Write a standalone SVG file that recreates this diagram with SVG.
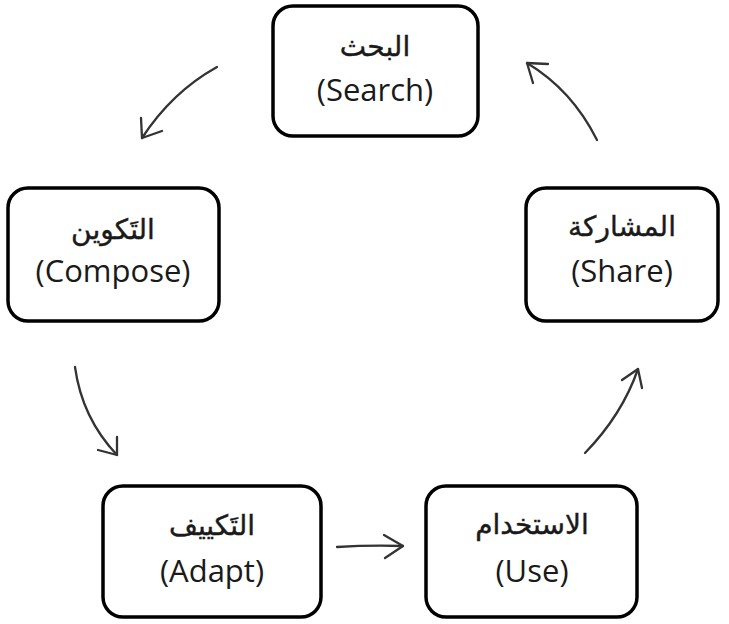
<svg xmlns="http://www.w3.org/2000/svg" width="729" height="624" viewBox="0 0 729 624">
  <style>
    .box { fill: #ffffff; stroke: #000000; stroke-width: 3.5; }
    .ar { font-family: "DejaVu Sans", "Noto Sans", sans-serif; font-size: 28px; fill: #1a1a1a; text-anchor: middle; stroke: #1a1a1a; stroke-width: 0.4; }
    .en { font-family: "Open Sans", "Liberation Sans", sans-serif; font-size: 31px; fill: #1a1a1a; text-anchor: middle; }
    .arrow { fill: none; stroke: #333333; stroke-width: 2.3; stroke-linecap: round; stroke-linejoin: round; }
  </style>
  <rect width="729" height="624" fill="#ffffff"/>

  <g id="search">
    <rect class="box" x="273" y="6" width="205" height="130" rx="20"/>
    <text class="ar" x="375" y="56" direction="rtl">البحث</text>
    <text class="en" x="375" y="101">(Search)</text>
  </g>

  <g id="compose">
    <rect class="box" x="8" y="188" width="211" height="133" rx="20"/>
    <text class="ar" x="113" y="239" direction="rtl">التَكوين</text>
    <text class="en" x="113" y="282">(Compose)</text>
  </g>

  <g id="share">
    <rect class="box" x="526" y="188" width="192" height="133" rx="20"/>
    <text class="ar" x="622" y="236" direction="rtl">المشاركة</text>
    <text class="en" x="622" y="282">(Share)</text>
  </g>

  <g id="adapt">
    <rect class="box" x="103" y="486" width="218" height="131" rx="20"/>
    <text class="ar" x="212" y="535" direction="rtl">التَكييف</text>
    <text class="en" x="212" y="582">(Adapt)</text>
  </g>

  <g id="use">
    <rect class="box" x="426" y="486" width="211" height="131" rx="20"/>
    <text class="ar" x="532" y="534" direction="rtl">الاستخدام</text>
    <text class="en" x="532" y="582">(Use)</text>
  </g>

  <g id="connectors">
    <!-- search to compose -->
    <path class="arrow" d="M217,67 Q172,92 142,138"/>
    <path class="arrow" d="M141,118 L142,138 L162,131"/>
    <!-- compose to adapt -->
    <path class="arrow" d="M75,367 Q82,418 117,455"/>
    <path class="arrow" d="M98,450 L117,455 L117,437"/>
    <!-- adapt to use -->
    <path class="arrow" d="M337,547 Q370,545 403,546"/>
    <path class="arrow" d="M384,535 L403,546 L385,558"/>
    <!-- use to share -->
    <path class="arrow" d="M585,453 Q622,415 638,369"/>
    <path class="arrow" d="M622,380 L638,369 L642,388"/>
    <!-- share to search -->
    <path class="arrow" d="M597,140 Q572,90 527,63"/>
    <path class="arrow" d="M548,64 L527,63 L533,83"/>
  </g>
</svg>
